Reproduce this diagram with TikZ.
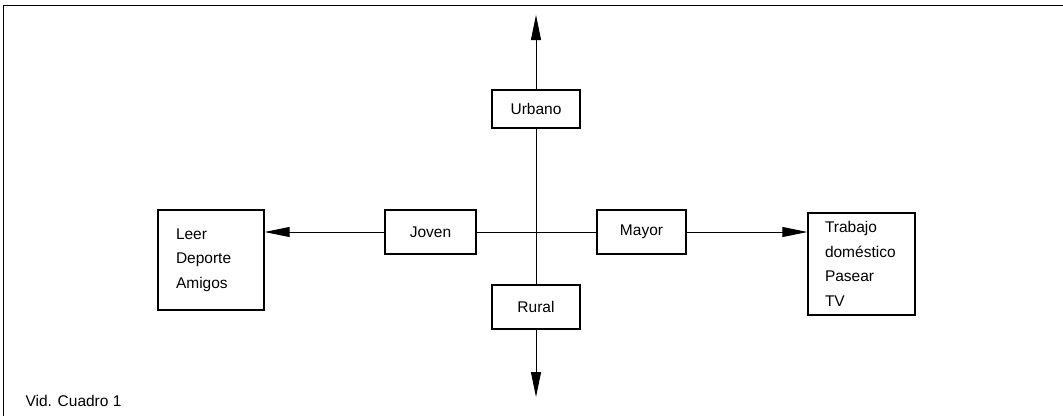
\documentclass[tikz,border=0pt]{standalone}
\usepackage{fontspec}
\setmainfont{Liberation Sans}
\usetikzlibrary{arrows.meta}

\begin{document}
\begin{tikzpicture}[x=1pt,y=-1pt,
        font=\fontsize{15.5}{24.5}\selectfont,
        box/.style={draw,line width=1.3pt,inner sep=0pt},
        listbox/.style={draw,line width=1.3pt,inner xsep=18pt,inner ysep=0pt,align=left},
        axis/.style={line width=0.9pt},
        tip/.style={axis,-{Triangle[length=25pt,width=10pt]}}]
        \useasboundingbox (0,0) rectangle (1063,416);
        \draw[line width=1pt] (3,416) -- (3,5) -- (1063,5);

        \node[box,minimum width=88,minimum height=38] (urbano) at (536,109) {Urbano};
        \node[box,minimum width=88,minimum height=44] (rural) at (536,307) {Rural};
        \node[box,minimum width=91,minimum height=44] (joven) at (430.5,232) {Joven};
        \node[box,minimum width=89,minimum height=44] (mayor) at (641.5,232) {Mayor};

        \node[listbox,text width=70,minimum height=100] (leer) at (211,260) {Leer\\Deporte\\Amigos};
        \node[listbox,text width=73,inner xsep=17pt,minimum height=102] (trabajo) at (861.5,264) {Trabajo\\dom\'estico\\Pasear\\TV};

        \coordinate (arriba) at (536,15);
        \coordinate (abajo) at (536,397);

        \draw[tip] (urbano.north) -- (arriba);
        \draw[tip] (rural.south) -- (abajo);
        \draw[axis] (urbano.south) -- (rural.north);
        \draw[axis] (joven.east) -- (mayor.west);
        \draw[tip] (joven.west) -- (leer.east |- joven.west);
        \draw[tip] (mayor.east) -- (trabajo.west |- mayor.east);

        \node[anchor=base west] (vid) at (22,406) {Vid. Cuadro 1};
    \end{tikzpicture}
\end{document}
